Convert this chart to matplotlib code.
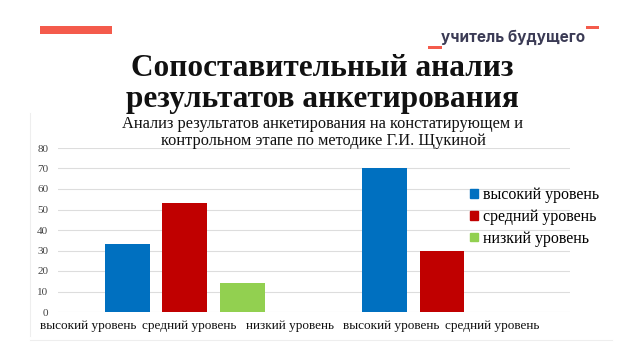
import matplotlib
matplotlib.use("Agg")
import matplotlib.pyplot as plt
from matplotlib.patches import Rectangle
from matplotlib.lines import Line2D
import numpy as np

# ---- data ----
groups = ["констатирующий этап", "контрольный этап"]
series_names = ["высокий уровень", "средний уровень", "низкий уровень"]
high = [33, 70]
medium = [53, 30]
low = [14, 0]
series_colors = ["#0070C0", "#C00000", "#92D050"]
y_ticks = [0, 10, 20, 30, 40, 50, 60, 70, 80]
bottom_labels = ["высокий уровень", "средний уровень", "низкий уровень",
                 "высокий уровень", "средний уровень"]

title_lines = "Сопоставительный анализ\nрезультатов анкетирования"
chart_title = ("Анализ результатов анкетирования на констатирующем и\n"
               "контрольном этапе по методике Г.И. Щукиной")
logo_text = "учитель будущего"

SERIF = ["Liberation Serif", "DejaVu Serif"]

fig = plt.figure(figsize=(6.4, 3.6), dpi=100)
fig.patch.set_facecolor("white")
W, H = 640, 360

def fx(px):
    return px / W

def fy(py):
    return 1 - py / H

# decorative red bar top-left
fig.patches.append(Rectangle((fx(40), fy(34)), fx(112) - fx(40), fy(26) - fy(34),
                             transform=fig.transFigure, color="#F45B4C", lw=0))
# logo
fig.text(fx(513), fy(37), logo_text, ha="center", va="center", fontsize=11,
         fontweight="bold", color="#3B3B55", family=["Inter", "DejaVu Sans"])
fig.patches.append(Rectangle((fx(586), fy(29)), fx(13), fy(26) - fy(29),
                             transform=fig.transFigure, color="#F45B4C", lw=0))
fig.patches.append(Rectangle((fx(428), fy(49)), fx(14), fy(46) - fy(49),
                             transform=fig.transFigure, color="#F45B4C", lw=0))

# main title
fig.text(fx(322), fy(84), title_lines, ha="center", va="center", fontsize=22.5,
         fontweight="bold", family=SERIF, color="#111111", linespacing=1.05)

# faint frame of pasted chart image
fig.lines.append(Line2D([fx(30), fx(30)], [fy(113), fy(336)], transform=fig.transFigure,
                        color="#eeeeee", lw=0.8))
fig.lines.append(Line2D([fx(30), fx(612)], [fy(340), fy(340)], transform=fig.transFigure,
                        color="#eeeeee", lw=0.8))

# chart title
fig.text(fx(323), fy(132.5), chart_title, ha="center", va="center", fontsize=11.8,
         family=SERIF, color="#111111", linespacing=1.05)

ax = fig.add_axes([fx(58), fy(312), fx(570) - fx(58), fy(148) - fy(312)])
x = np.arange(len(groups))
step = 0.222
width = 0.175
for i, (vals, name, col) in enumerate(zip([high, medium, low], series_names, series_colors)):
    ax.bar(x + (i - 1) * step, vals, width, color=col, label=name, zorder=3)

ax.set_xlim(-0.494, 1.498)
ax.set_ylim(0, 80)
ax.set_yticks(y_ticks)
ax.set_yticklabels([str(t) for t in y_ticks], family=SERIF, fontsize=8, color="#444444")
ax.tick_params(axis="y", length=0, pad=7)
ax.grid(axis="y", color="#dddddd", lw=0.8, zorder=0)
for s in ax.spines.values():
    s.set_visible(False)
ax.set_xticks(np.linspace(-0.377, 1.195, len(bottom_labels)))
ax.set_xticklabels(bottom_labels, family=SERIF, fontsize=9.5, color="#111111")
ax.tick_params(axis="x", length=0, pad=6)

handles = [Rectangle((0, 0), 1, 1, color=c) for c in series_colors]
fig.legend(handles, series_names, loc="upper left", bbox_to_anchor=(fx(464), fy(181)),
           frameon=False, prop={"family": SERIF, "size": 11.5}, handlelength=0.45,
           handleheight=0.45, handletextpad=0.35, labelspacing=0.35, borderaxespad=0)

fig.savefig("out.png", dpi=100, facecolor="white")
